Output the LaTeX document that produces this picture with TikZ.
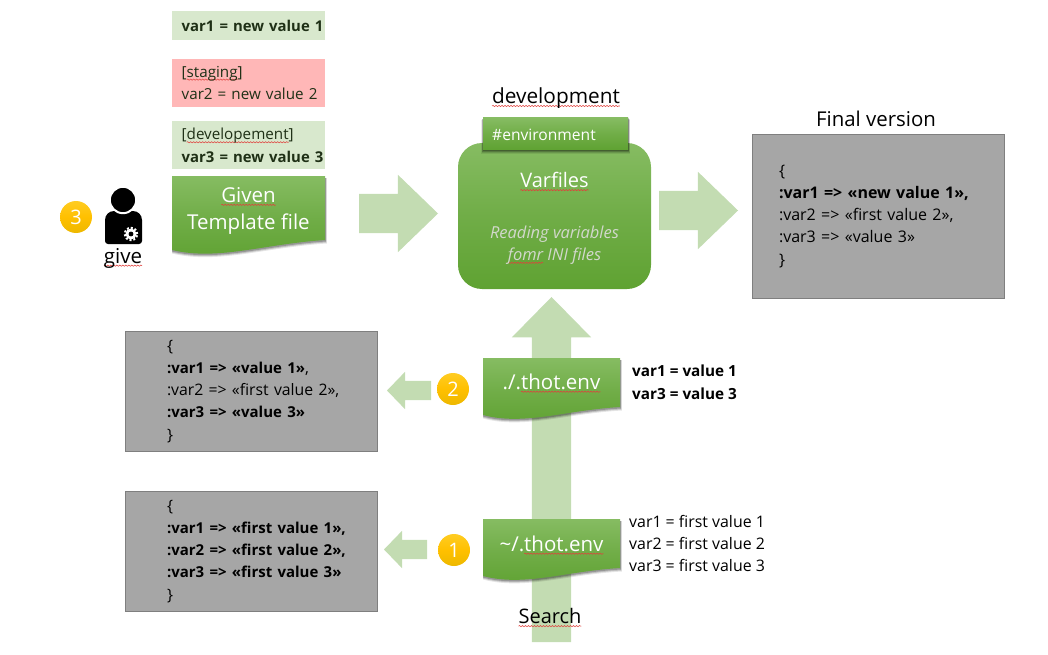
\documentclass[tikz,border=0pt]{standalone}
\usepackage{fontspec}
\setmainfont{Open Sans}
\usetikzlibrary{shapes.arrows,decorations.pathmorphing,calc}
\definecolor{arrowgreen}{HTML}{C3DCB2}
\definecolor{notegreen}{HTML}{D8E8CD}
\definecolor{notered}{HTML}{FFB7B7}
\definecolor{greytop}{HTML}{A6A6A6}
\definecolor{greyline}{HTML}{7F7F7F}
\definecolor{gtop}{HTML}{86BC62}
\definecolor{gmid}{HTML}{70AD47}
\definecolor{gbot}{HTML}{5FA232}
\definecolor{darktext}{HTML}{1F3016}
\definecolor{paletext}{HTML}{D2D8CC}
\definecolor{squig}{HTML}{E0403C}
\definecolor{badgetop}{HTML}{FFCC22}
\definecolor{badgebot}{HTML}{EDB800}
\definecolor{badgemid}{HTML}{FFC000}
\newsavebox\sqbox
\newcommand\sq[1]{\sbox\sqbox{#1}\leavevmode\tikz[baseline=0pt,overlay]\draw[squig,line width=.55pt,decorate,decoration={snake,amplitude=.6pt,segment length=3pt}] (0pt,-2.6pt) -- (\wd\sqbox,-2.6pt);\usebox\sqbox}
\newcommand\bsmall[1]{{\fontsize{15}{22.3}\selectfont\bfseries #1}}
\newcommand\wavedoc[9]{%
 % name, x1, ytop, x2, yleft, yright, font size/leading, text y shift, text
 \foreach \d/\o in {3.5/.10,2.5/.16,1.5/.22}{
  \fill[black,opacity=\o] (#2+\d/3,#3+2) -- (#4+\d/2,#3+2) -- (#4+\d/2,#6+\d)
   .. controls ($(#4,#6+\d)!.4!(#2,#5+\d)$) and ($(#2,#5+\d+11)!.3!(#4,#5+\d+11)$) .. (#2,#5+\d) -- cycle;
 }
 \path[top color=gtop,bottom color=gbot,middle color=gmid] (#2,#3) -- (#4,#3) -- (#4,#6)
   .. controls ($(#4,#6)!.4!(#2,#5)$) and ($(#2,#5+11)!.3!(#4,#5+11)$) .. (#2,#5) -- cycle;
 \node[doctext,align=center,font=#7] (#1) at ({(#2+#4)/2},{(#3+#6)/2-1+#8}) {#9};
}
\tikzset{
 x=1pt,y=-1pt,
 blockarrow/.style={shape=single arrow,anchor=tip,fill=arrowgreen,draw=none,inner sep=0pt,outer sep=0pt,single arrow head indent=0pt},
 note/.style={anchor=north west,inner sep=0pt,minimum width=153pt,text width=153pt,align=left,execute at begin node={\leftskip=9.5pt\relax},font=\fontsize{15.2}{22.5}\selectfont,text=darktext},
 greybox/.style={fill=greytop,draw=greyline,line width=.7pt,outer sep=0pt,anchor=north west,inner sep=0pt,text width=252.5pt,minimum width=252.5pt,align=left,text=black,execute at begin node={\leftskip=#1\relax}},
 doctext/.style={text=white,inner sep=0pt},
 badge/.style={circle,minimum size=32pt,inner sep=0pt,top color=badgetop,bottom color=badgebot,middle color=badgemid,text=white,font=\fontsize{20}{22}\selectfont},
 plain/.style={inner sep=0pt,text=black},
 sidetext/.style={inner sep=0pt,anchor=north west,align=left,text=black},
}
\begin{document}
\begin{tikzpicture}
\useasboundingbox (0,0) rectangle (1048,655);
% block arrows
\node[blockarrow,rotate=90,minimum height=345pt,minimum width=79pt,single arrow head extend=20pt,single arrow tip angle=89] (search arrow) at (551.5,297) {\rule{0pt}{39pt}};
\node[blockarrow,minimum height=79pt,minimum width=77pt,single arrow head extend=19pt,single arrow tip angle=88] (arrow in) at (438,213.5) {\rule{0pt}{39pt}};
\node[blockarrow,minimum height=79pt,minimum width=77pt,single arrow head extend=19pt,single arrow tip angle=88] (arrow out) at (738,210.5) {\rule{0pt}{39pt}};
\node[blockarrow,rotate=180,minimum height=44pt,minimum width=37pt,single arrow head extend=9pt,single arrow tip angle=92] (arrow two) at (387,390.5) {\rule{0pt}{19pt}};
\node[blockarrow,rotate=180,minimum height=43pt,minimum width=37pt,single arrow head extend=9pt,single arrow tip angle=92] (arrow one) at (384,549.5) {\rule{0pt}{19pt}};
% notes
\node[note,fill=notegreen,minimum height=29pt] (n1) at (172,11) {\raisebox{-3pt}{\fontsize{14.9}{22.5}\selectfont\textbf{var1 = new value 1}}};
\node[note,fill=notered,minimum height=48pt] (n2) at (172,59) {\raisebox{1pt}{[\sq{staging}]}\\\raisebox{1pt}{var2 = new value 2}};
\node[note,fill=notegreen,minimum height=48pt] (n3) at (172,121) {\raisebox{-2pt}{[\sq{developement}]}\\\raisebox{-2pt}{\fontsize{14.9}{22.5}\selectfont\textbf{var3 = new value 3}}};
% template
\wavedoc{template}{172}{176}{325}{250}{240}{\fontsize{20.5}{27.5}\selectfont}{4}{\sq{Given}\\Template file}
% person
\node[badge] (b3) at (76,217) {3};
\fill[black] (105,244) [rounded corners=3pt] -- (105,222) [rounded corners=9pt] -- (105,211) -- (142,211) [rounded corners=3pt] -- (142,244) -- cycle;
\draw[white,line width=2pt,fill=black] (123,200) circle (13.2pt);
\fill[white] (131,234) circle (5.5pt);
\draw[white,line width=2pt,dash pattern=on 2pt off 1.93pt] (131,234) circle (6.2pt);
\fill[black] (131,234) circle (2.4pt);
\node[plain,font=\fontsize{20.5}{22}\selectfont] (give) at (123,258) {\sq{give}};
% varfiles
\path[top color=gtop,bottom color=gbot,middle color=gmid,rounded corners=24pt] (458,143) rectangle (651,289);
\node[doctext,font=\fontsize{20}{22}\selectfont] (varfiles) at (554.5,180) {\sq{Varfiles}};
\node[doctext,text=paletext,align=center,font=\itshape\fontsize{16.5}{22}\selectfont] (reading) at (554.5,245) {Reading variables\\\sq{fomr} INI files};
\foreach \d/\o in {4/.08,3/.12,2/.18,1/.22}{\fill[black,opacity=\o] (483-\d/2,118+\d/2) rectangle (628+\d/2,150+\d);}
\path[top color=gtop,bottom color=gbot,middle color=gmid] (483,118) rectangle (628,150);
\node[doctext,anchor=west,font=\fontsize{15.6}{16}\selectfont] (env) at (492,134.5) {\#environment};
\node[plain,font=\fontsize{20.8}{22}\selectfont] (dev) at (556,98) {\sq{development}};
% final
\node[plain,font=\fontsize{20.4}{22}\selectfont] (finaltitle) at (876,119) {Final version};
\node[greybox=27pt,minimum height=164.5pt,font=\fontsize{16}{22.3}\selectfont] (final) at (752,134) {\{\\\textbf{:var1 => «new value 1»,}\\:var2 => «first value 2»,\\:var3 => «value 3»\\\}};
% local / home results
\node[greybox=42pt,minimum height=120.5pt,font=\fontsize{15.8}{22.3}\selectfont] (local) at (125,331) {\{\\\bsmall{:var1 => «value 1»},\\:var2 => «first value 2»,\\\bsmall{:var3 => «value 3»}\\\}};
\node[greybox=42pt,minimum height=120.5pt,font=\fontsize{15.8}{22.3}\selectfont] (home) at (125,491) {\{\\\bsmall{:var1 => «first value 1»,}\\\bsmall{:var2 => «first value 2»,}\\\bsmall{:var3 => «first value 3»}\\\}};
% env files
\wavedoc{thotlocal}{483}{358}{620}{415}{407}{\fontsize{20.5}{22}\selectfont}{0}{./.\sq{thot.env}}
\wavedoc{thothome}{483}{519}{620}{576}{568}{\fontsize{20.5}{22}\selectfont}{1}{\char"007E/.\sq{thot.env}}
\node[badge] (b2) at (453,389) {2};
\node[badge] (b1) at (454,550) {1};
\node[sidetext,font=\bfseries\fontsize{15.3}{22.2}\selectfont] (t2) at (632,365) {var1 = value 1\\var3 = value 3};
\node[sidetext,font=\fontsize{15.9}{22.2}\selectfont] (t1) at (629,515) {var1 = first value 1\\var2 = first value 2\\var3 = first value 3};
\node[plain,font=\fontsize{20}{20}\selectfont] (search) at (550,616) {\sq{Search}};
\end{tikzpicture}
\end{document}
